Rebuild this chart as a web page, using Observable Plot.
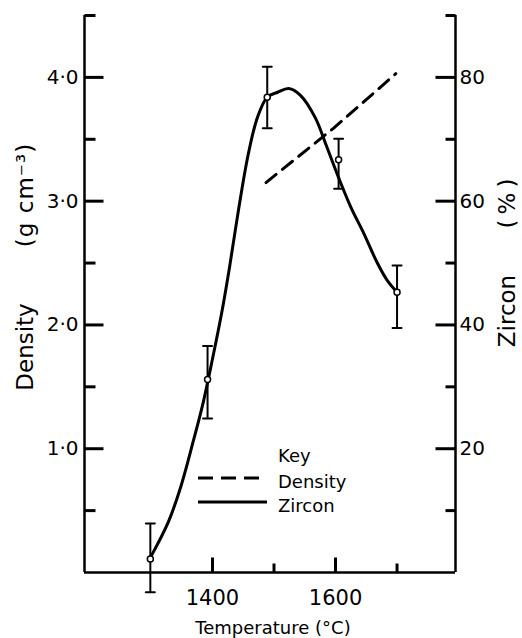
<!DOCTYPE html>
<html><head><meta charset="utf-8">
<script src="https://cdn.jsdelivr.net/npm/d3@7"></script>
<script src="https://cdn.jsdelivr.net/npm/@observablehq/plot@0.6"></script>
<style>
html,body{margin:0;padding:0;background:#fff;}
#chart svg{display:block;}
</style></head><body><div id="chart"></div>
<script>
// Zircon (%) measurements with error bars
const temps = [1299, 1392, 1489, 1605, 1700];
const zircon = [2.2, 31.2, 76.8, 66.7, 45.3];
const zirconLow = [-3.2, 24.9, 71.8, 62.0, 39.5];
const zirconHigh = [7.9, 36.6, 81.7, 70.1, 49.6];
// Smooth zircon curve
const curveT = [1299, 1328, 1348, 1369, 1385, 1400, 1416, 1428, 1443, 1458, 1473, 1489, 1506, 1524, 1543, 1567, 1585, 1605, 1625, 1645, 1668, 1684, 1700];
const curveZ = [2.4, 8.1, 13.7, 21.3, 27.5, 34.5, 42.5, 49.5, 59.0, 67.5, 73.5, 76.8, 77.6, 78.2, 77.1, 73.5, 69.0, 63.8, 59.0, 55.0, 50.0, 47.2, 45.3];
// Density (g cm^-3), dashed line
const densityT = [1487, 1597, 1698];
const densityV = [3.15, 3.59, 4.03];
// Axes
const xDomain = [1192, 1795];
const yDomain = [0, 4.5];
const xTicks = [1400, 1600];
const xMinor = [1500, 1700];
const leftTicks = [1, 2, 3, 4];
const leftMinor = [0.5, 1.5, 2.5, 3.5];
const rightTicks = [20, 40, 60, 80];
const rightMinor = [10, 30, 50, 70];
const zRatio = 20; // zircon % per density unit on the shared vertical scale

const W = 522, H = 638, ML = 84, MR = 67, MT = 15, MB = 66;
const pxX = (xDomain[1] - xDomain[0]) / (W - ML - MR);
const pxY = (yDomain[1] - yDomain[0]) / (H - MT - MB);

const points = temps.map((t, i) => ({t, z: zircon[i], lo: zirconLow[i], hi: zirconHigh[i]}));
const curve = curveT.map((t, i) => ({t, z: curveZ[i]}));
const density = densityT.map((t, i) => ({t, d: densityV[i]}));
const tickRows = (vals, side, len) => vals.map(v => ({
  v, a: side === "left" ? xDomain[0] : xDomain[1],
  b: side === "left" ? xDomain[0] + len * pxX : xDomain[1] - len * pxX
}));
const yTickRows = [
  ...tickRows(leftTicks, "left", 19),
  ...tickRows([...leftMinor, yDomain[1]], "left", 11),
  ...tickRows(rightTicks.map(v => v / zRatio), "right", 20),
  ...tickRows([...rightMinor.map(v => v / zRatio), yDomain[1]], "right", 10)
];
const xTickRows = [
  ...xTicks.map(v => ({v, top: 15 * pxY})),
  ...xMinor.map(v => ({v, top: 9 * pxY}))
];

const capShape = {draw(ctx, l) { ctx.moveTo(-l / 2, 0); ctx.lineTo(l / 2, 0); }};
const fmtLeft = d => d.toFixed(1).replace(".", "\u00b7");

const chart = Plot.plot({
  width: W, height: H,
  marginLeft: ML, marginRight: MR, marginTop: MT, marginBottom: MB,
  style: {fontFamily: "DejaVu Sans", color: "black", background: "white"},
  x: {domain: xDomain},
  y: {domain: yDomain},
  marks: [
    Plot.ruleX([xDomain[0]], {strokeWidth: 2.5}),
    Plot.ruleX([xDomain[1]], {strokeWidth: 2.5}),
    Plot.ruleY([yDomain[0]], {strokeWidth: 2.5}),
    // inward ticks
    Plot.link(yTickRows, {x1: "a", x2: "b", y1: "v", y2: "v", stroke: "#000", strokeWidth: 3}),
    Plot.link(xTickRows, {x1: "v", x2: "v", y1: () => yDomain[0], y2: "top", stroke: "#000", strokeWidth: 3}),
    Plot.axisY(leftTicks, {anchor: "left", tickSize: 0, tickPadding: 6, tickFormat: fmtLeft, label: null, fontSize: 20}),
    Plot.axisY(rightTicks.map(v => v / zRatio), {anchor: "right", tickSize: 0, tickPadding: 4, tickFormat: d => Math.round(d * zRatio), label: null, fontSize: 20}),
    Plot.axisX(xTicks, {anchor: "bottom", tickSize: 0, tickPadding: 18, tickFormat: d => String(d), label: null, fontSize: 21}),
    Plot.line(density, {x: "t", y: "d", stroke: "black", strokeWidth: 3, strokeDasharray: "13,8"}),
    Plot.line(curve, {x: "t", y: d => d.z / zRatio, stroke: "black", strokeWidth: 3, curve: "catmull-rom"}),
    Plot.ruleX(points, {x: "t", y1: d => d.lo / zRatio, y2: d => d.hi / zRatio, strokeWidth: 2}),
    Plot.vector(points, {x: "t", y: d => d.lo / zRatio, length: 9, anchor: "start", shape: capShape, strokeWidth: 2}),
    Plot.vector(points, {x: "t", y: d => d.hi / zRatio, length: 9, anchor: "start", shape: capShape, strokeWidth: 2}),
    Plot.dot(points, {x: "t", y: d => d.z / zRatio, r: 3, stroke: "black", fill: "white", strokeWidth: 1.5})
  ]
});
document.getElementById("chart").appendChild(chart);

const svg = d3.select(chart);
const title = (x, y, txt, ls) => svg.append("text")
  .attr("transform", `translate(${x},${y}) rotate(-90)`)
  .attr("text-anchor", "middle").attr("dominant-baseline", "central")
  .attr("font-family", "DejaVu Sans").attr("font-size", 23)
  .attr("letter-spacing", ls || 0).attr("fill", "black").text(txt);
title(25, 347, "Density");
title(25, 195, "(g cm\u207b\u00b3)", 1);
title(507, 311, "Zircon");
title(507, 201, "(%)", 5);

const key = svg.append("g").attr("font-family", "DejaVu Sans").attr("font-size", 18)
  .attr("fill", "black").attr("text-anchor", "start");
key.append("text").attr("x", 278).attr("y", 455).attr("dominant-baseline", "central").text("Key");
key.append("line").attr("x1", 198).attr("x2", 267).attr("y1", 478).attr("y2", 478)
  .attr("stroke", "black").attr("stroke-width", 3).attr("stroke-dasharray", "15,8");
key.append("text").attr("x", 278).attr("y", 481).attr("dominant-baseline", "central").text("Density");
key.append("line").attr("x1", 198).attr("x2", 267).attr("y1", 502).attr("y2", 502)
  .attr("stroke", "black").attr("stroke-width", 3);
key.append("text").attr("x", 278).attr("y", 505).attr("dominant-baseline", "central").text("Zircon");
svg.append("text").attr("x", 273).attr("y", 627).attr("text-anchor", "middle").attr("dominant-baseline", "central")
  .attr("font-family", "DejaVu Sans").attr("font-size", 18).attr("fill", "black").text("Temperature (\u00b0C)");
</script></body></html>
